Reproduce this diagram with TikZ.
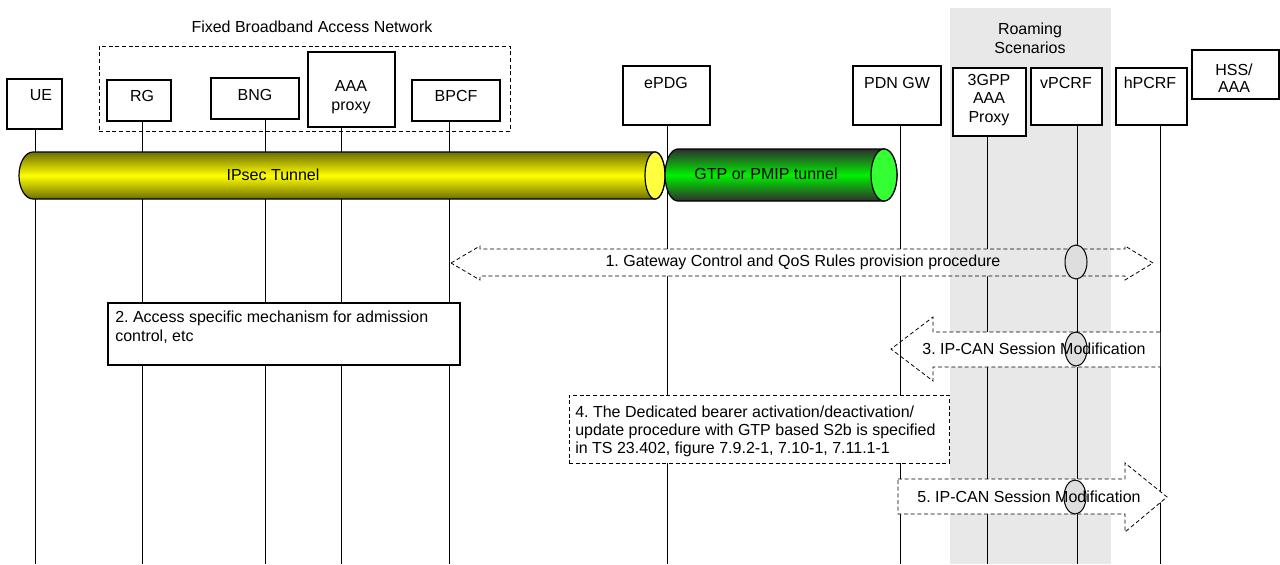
\documentclass[tikz,border=0pt]{standalone}
\usepackage{fontspec}
\setmainfont{Liberation Sans}
\usetikzlibrary{fit,shapes.geometric}
\definecolor{bandgray}{HTML}{E8E8E8}
\definecolor{ydark}{HTML}{6E6E00}
\definecolor{ymid}{HTML}{FFFF00}
\definecolor{ycap}{HTML}{FFFF40}
\definecolor{gdark}{HTML}{2E2E2E}
\definecolor{gmid}{HTML}{00F000}
\definecolor{gcap}{HTML}{33FF33}
\definecolor{ellfill}{HTML}{DEDEDE}
\frenchspacing
\begin{document}
\begin{tikzpicture}[x=0.75pt,y=-0.75pt,
  every node/.style={font=\fontsize{12pt}{14pt}\selectfont, inner sep=0pt},
  box/.style={draw, line width=0.9pt, fill=white, inner sep=0pt},
  life/.style={line width=0.75pt},
  dsh/.style={dash pattern=on 3pt off 2pt, line width=0.6pt},
  ell/.style={draw, fill=ellfill, line width=0.75pt}]
\useasboundingbox (0,0) rectangle (1280,564);

% roaming band
\fill[bandgray] (950,8) rectangle (1111,564);

% titles
\node (title) at (312,27) {Fixed Broadband Access Network};
\node[align=center] (roam) at (1030,38) {Roaming\\Scenarios};

% access network frame
\node[draw, dsh, line width=0.75pt, fit={(99,46) (510,131)}] (fbn) {};

% lifeline bottom coordinates
\coordinate (lue) at (35,564);
\coordinate (lrg) at (142,564);
\coordinate (lbng) at (265,564);
\coordinate (laaa) at (341,564);
\coordinate (lbpcf) at (449,564);
\coordinate (lepdg) at (667,564);
\coordinate (lpdn) at (900,564);
\coordinate (l3gpp) at (987,564);
\coordinate (lvp) at (1077,564);
\coordinate (lhp) at (1160,564);

% boxes
\node[box, fit={(7,79) (62,129)}] (ue) {};
\node[box, fit={(107,80) (171,121)}] (rg) {};
\node[box, fit={(211,78) (299,119)}] (bng) {};
\node[box, fit={(308,52) (395,127)}] (aaa) {};
\node[box, fit={(412,80) (500,121)}] (bpcf) {};
\node[box, fit={(623,66) (710,125)}] (epdg) {};
\node[box, fit={(853,66) (941,125)}] (pdn) {};
\node[box, fit={(953,68) (1026,136)}] (tgpp) {};
\node[box, fit={(1031,68) (1102,125)}] (vpcrf) {};
\node[box, fit={(1116,68) (1187,125)}] (hpcrf) {};
\node[box, fit={(1192,50) (1279,99)}] (hss) {};

% box labels
\node (uet) at (41,95) {UE};
\node (rgt) at (142,96) {RG};
\node (bngt) at (255,95) {BNG};
\node[align=center] (aaat) at (351,97) {AAA\\proxy};
\node (bpcft) at (456,96) {BPCF};
\node (epdgt) at (666,83) {ePDG};
\node (pdnt) at (897,83) {PDN GW};
\node[align=center] (tgppt) at (989,100) {3GPP\\AAA\\Proxy};
\node (vpcrft) at (1066,83) {vPCRF};
\node (hpcrft) at (1150,83) {hPCRF};
\node[align=center, font=\fontsize{12pt}{12.5pt}\selectfont] (hsst) at (1234,78) {HSS/\\AAA};

% lifelines
\draw[life] (ue.south -| lue) -- (lue);
\draw[life] (rg.south -| lrg) -- (lrg);
\draw[life] (bng.south -| lbng) -- (lbng);
\draw[life] (aaa.south -| laaa) -- (laaa);
\draw[life] (bpcf.south -| lbpcf) -- (lbpcf);
\draw[life] (epdg.south -| lepdg) -- (lepdg);
\draw[life] (pdn.south -| lpdn) -- (lpdn);
\draw[life] (tgpp.south -| l3gpp) -- (l3gpp);
\draw[life] (vpcrf.south -| lvp) -- (lvp);
\draw[life] (hpcrf.south -| lhp) -- (lhp);

% IPsec tunnel (yellow)
\shade[top color=ydark, bottom color=ydark, middle color=ymid]
  (33,152) -- (655,152) arc[start angle=-90,end angle=90,x radius=10,y radius=23.5]
  -- (33,199) arc[start angle=90,end angle=270,x radius=14,y radius=23.5] -- cycle;
\draw[line width=0.9pt]
  (33,152) -- (655,152) arc[start angle=-90,end angle=90,x radius=10,y radius=23.5]
  -- (33,199) arc[start angle=90,end angle=270,x radius=14,y radius=23.5] -- cycle;
\filldraw[fill=ycap, line width=0.9pt] (655,175.5) ellipse[x radius=10, y radius=23.5];
\node (ipsec) at (273,175) {IPsec Tunnel};

% GTP / PMIP tunnel (green)
\shade[top color=gdark, bottom color=gdark, middle color=gmid]
  (678,149) -- (884,149) arc[start angle=-90,end angle=90,x radius=13,y radius=26]
  -- (678,201) arc[start angle=90,end angle=270,x radius=13,y radius=26] -- cycle;
\draw[line width=0.9pt]
  (678,149) -- (884,149) arc[start angle=-90,end angle=90,x radius=13,y radius=26]
  -- (678,201) arc[start angle=90,end angle=270,x radius=13,y radius=26] -- cycle;
\filldraw[fill=gcap, line width=0.9pt] (884,175) ellipse[x radius=13, y radius=26];
\node (gtp) at (766,174) {GTP or PMIP tunnel};

% 1. double block arrow
\def\arrowone{(451,263) -- (480,246) -- (480,249) -- (1125,249) -- (1125,246) -- (1153,263) -- (1125,280) -- (1125,276) -- (480,276) -- (480,280) -- cycle}
\fill[white] \arrowone;
\begin{scope}
  \clip (950,8) rectangle (1111,564);
  \fill[bandgray] \arrowone;
\end{scope}
\draw[dsh] \arrowone;

% 3. left block arrow
\fill[white] (891,349) -- (933,317) -- (933,332) -- (1160,332) -- (1160,367) -- (933,367) -- (933,381) -- cycle;
\draw[dsh] (1160,332) -- (933,332) -- (933,317) -- (891,349) -- (933,381) -- (933,367) -- (1160,367);

% PDN GW lifeline visible through arrow 3 head
\coordinate (pdnA) at (900,276);
\coordinate (pdnB) at (900,395);
\draw[life] (pdnA) -- (pdnB);

% 2. access-specific box
\node[box, fit={(108,303) (460,365)}] (b2) {};
\node[align=left, anchor=north west] (t2) at (115,311)
  {2. Access specific mechanism for admission\\control, etc};

% 4. dashed note box
\node[draw, dsh, line width=0.75pt, fill=white, fit={(569,395) (949,463)}] (b4) {};
\node[align=left, anchor=north west, font=\fontsize{12pt}{13.5pt}\selectfont] (t4) at (575,406)
  {4. The Dedicated bearer activation/deactivation/\\update procedure with GTP based S2b is specified\\in TS 23.402, figure 7.9.2-1, 7.10-1, 7.11.1-1};

% 5. right block arrow
\filldraw[dsh, fill=white] (898,479) -- (1125,479) -- (1125,463) -- (1167,497) -- (1125,532) -- (1125,514) -- (898,514) -- cycle;

% ellipses on vPCRF
\node[ell, ellipse, minimum width=22*0.75pt, minimum height=34*0.75pt] (e1) at (1076,262) {};
\node[ell, ellipse, minimum width=22*0.75pt, minimum height=34*0.75pt] (e3) at (1076,349) {};
\node[ell, ellipse, minimum width=22*0.75pt, minimum height=34*0.75pt] (e5) at (1075,497) {};

% arrow labels
\node (t1) at (803,262) {1. Gateway Control and QoS Rules provision procedure};
\node (t3) at (1034,349) {3. IP-CAN Session Modification};
\node (t5) at (1029,497) {5. IP-CAN Session Modification};
\end{tikzpicture}
\end{document}
